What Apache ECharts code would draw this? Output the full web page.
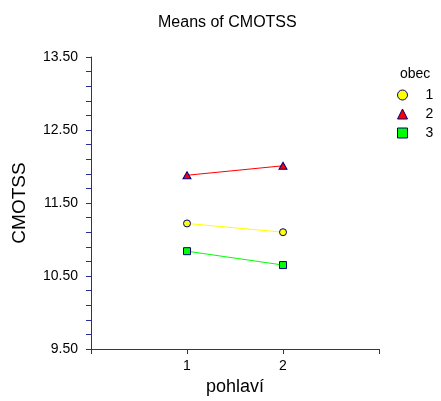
<!DOCTYPE html>
<html>
<head>
<meta charset="utf-8">
<script src="https://cdn.jsdelivr.net/npm/echarts@6/dist/echarts.min.js"></script>
<style>html,body{margin:0;padding:0;background:#fff;}#c{width:441px;height:401px;}</style>
</head>
<body>
<div id="c"></div>
<script>
var pohlavi = [1, 2];
var groups = ['1', '2', '3'];
var obec1 = [11.22, 11.10];
var obec2 = [11.88, 12.01];
var obec3 = [10.84, 10.65];
var xTickLabels = ['', '1', '2', ''];

var values = [obec1, obec2, obec3];
var colors = ['#ffff00', '#ff0000', '#00ff00'];
var symbols = ['circle', 'triangle', 'rect'];
var symSizes = [7, [8, 7], 7];
var edge = '#000080';
var axisColor = '#2a2a9a';
var font = 'Liberation Sans, Arial, sans-serif';

var chart = echarts.init(document.getElementById('c'));
var series = groups.map(function (g, k) {
  return {
    name: g,
    type: 'line',
    data: pohlavi.map(function (x, i) { return [x, values[k][i]]; }),
    symbol: symbols[k],
    symbolSize: symSizes[k],
    showSymbol: true,
    lineStyle: { color: colors[k], width: 1 },
    itemStyle: { color: colors[k], borderColor: edge, borderWidth: 1 },
    emphasis: { disabled: true }
  };
});

chart.setOption({
  animation: false,
  backgroundColor: '#fff',
  title: [
    { text: 'Means of CMOTSS', left: 153, top: 10,
      textStyle: { fontFamily: font, fontSize: 16, fontWeight: 'normal', color: '#000' } },
    { text: 'obec', left: 395, top: 62,
      textStyle: { fontFamily: font, fontSize: 14, fontWeight: 'normal', color: '#000' } }
  ],
  legend: {
    orient: 'vertical', left: 397, top: 88, padding: 0,
    itemWidth: 10, itemHeight: 10, itemGap: 5,
    selectedMode: false,
    textStyle: { fontFamily: font, fontSize: 14, color: '#000', padding: [0, 0, 0, 13] },
    data: groups.map(function (g, k) {
      return { name: g, icon: symbols[k],
        itemStyle: { color: colors[k], borderColor: edge, borderWidth: 1 } };
    })
  },
  grid: { left: 91, top: 57, right: 62, bottom: 52, containLabel: false },
  xAxis: {
    type: 'value', min: 0, max: 3, interval: 1,
    name: 'pohlaví', nameLocation: 'middle', nameGap: 27,
    nameTextStyle: { fontFamily: font, fontSize: 18, color: '#000' },
    axisLine: { show: true, lineStyle: { color: axisColor, width: 1 } },
    axisTick: { show: true, length: 5, lineStyle: { color: axisColor } },
    axisLabel: { fontFamily: font, fontSize: 14, color: '#000', margin: 10,
      formatter: function (v) { return xTickLabels[Math.round(v)] || ''; } },
    splitLine: { show: false }
  },
  yAxis: {
    type: 'value', min: 9.5, max: 13.5, interval: 1,
    name: 'CMOTSS', nameLocation: 'middle', nameGap: 62,
    nameTextStyle: { fontFamily: font, fontSize: 19, color: '#000' },
    axisLine: { show: true, lineStyle: { color: axisColor, width: 1 } },
    axisTick: { show: true, length: 5, lineStyle: { color: axisColor } },
    minorTick: { show: true, splitNumber: 5, length: 5, lineStyle: { color: axisColor } },
    axisLabel: { fontFamily: font, fontSize: 14, color: '#000', margin: 13,
      formatter: function (v) { return v.toFixed(2); } },
    splitLine: { show: false }
  },
  series: series
});
</script>
</body>
</html>
